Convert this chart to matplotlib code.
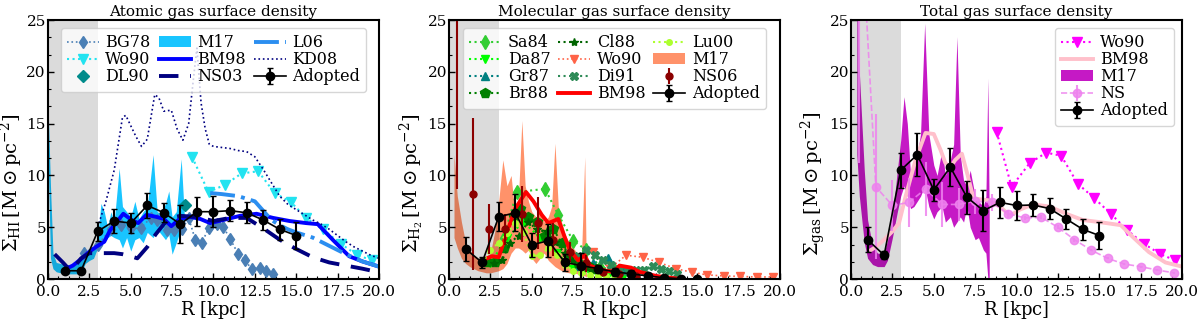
import numpy as np
import matplotlib
matplotlib.use("Agg")
import matplotlib.pyplot as plt
from matplotlib.ticker import MultipleLocator, AutoMinorLocator

plt.rcParams['font.family'] = 'DejaVu Serif'
plt.rcParams['mathtext.fontset'] = 'dejavuserif'

# ---------------- atomic gas (HI) ----------------
bg78_r = [2.2, 3.0, 3.8, 4.4, 5.0, 5.6, 6.2, 6.6, 7.2, 7.6, 8.1, 8.5, 8.9, 9.3, 9.7, 10.2, 10.6, 11.0, 11.5, 11.9, 12.3, 12.8, 13.2, 13.6]
bg78_s = [2.5, 3.3, 4.8, 5.2, 4.9, 4.9, 5.9, 5.7, 4.7, 4.7, 4.8, 5.9, 3.8, 3.5, 4.9, 5.3, 5.0, 3.9, 2.4, 1.8, 1.0, 1.1, 0.8, 0.5]

wo90_hi_r = [8.7, 9.7, 10.7, 11.7, 12.7, 13.7, 14.7, 15.6, 16.6, 17.7, 18.7, 19.6]
wo90_hi_s = [11.8, 8.4, 9.1, 10.2, 10.4, 8.3, 7.4, 5.9, 4.8, 3.4, 2.3, 1.8]

dl90_r = [8.3]
dl90_s = [7.1]

m17_hi_r = [0.0, 0.15, 0.3, 0.5, 0.75, 1.0, 1.25, 1.5, 1.75, 2.0, 2.25, 2.5, 2.75, 3.0, 3.2, 3.4, 3.6, 3.8, 4.0, 4.3, 4.5, 4.75, 5.0, 5.25, 5.5, 5.75, 6.0, 6.35, 6.6, 6.85, 7.1, 7.3, 7.5, 7.75, 8.05, 8.25]
m17_hi_up = [17.0, 9.0, 2.5, 1.6, 1.5, 1.4, 1.4, 1.4, 1.6, 2.0, 2.8, 2.5, 2.8, 4.0, 7.3, 6.5, 5.0, 6.5, 5.5, 10.7, 7.0, 6.5, 6.0, 7.5, 5.8, 6.5, 7.0, 12.0, 6.5, 6.3, 7.3, 8.5, 6.0, 6.5, 11.6, 5.8]
m17_hi_lo = [12.0, 2.0, 1.0, 0.7, 0.6, 0.5, 0.5, 0.5, 0.5, 0.6, 1.5, 1.8, 2.0, 3.0, 3.2, 3.6, 4.0, 4.2, 4.0, 3.8, 3.0, 4.0, 2.7, 3.8, 4.0, 3.5, 4.5, 4.0, 4.8, 4.3, 3.8, 4.3, 2.4, 3.5, 5.0, 5.5]

bm98_hi_r = [1.1, 1.5, 1.9, 2.4, 2.9, 3.4, 3.75, 4.2, 4.55, 5.05, 5.45, 5.95, 6.55, 7.0, 7.45, 7.95, 8.6, 9.2, 9.8, 10.6, 11.6, 12.6, 13.6, 14.6, 15.6, 16.3, 17.2, 18.2, 19.0, 20.0]
bm98_hi_s = [1.0, 1.3, 1.8, 2.5, 3.1, 3.6, 4.7, 5.6, 6.3, 5.7, 5.4, 6.2, 6.0, 5.8, 5.1, 5.8, 6.0, 5.8, 5.4, 5.7, 6.1, 6.3, 5.9, 5.6, 5.4, 5.3, 3.8, 2.2, 1.7, 1.2]

ns03_r = [0.4, 0.9, 1.3, 1.6, 2.0, 2.5, 3.0, 3.5, 4.0, 4.5, 5.0, 5.4, 6.0, 6.5, 7.0, 7.4, 8.0, 9.0, 10.0, 11.0, 12.0, 13.0, 14.0, 15.0, 16.0, 17.0, 18.0, 19.0, 20.0]
ns03_s = [2.4, 1.6, 0.9, 1.2, 2.0, 2.5, 2.5, 2.5, 2.5, 2.4, 2.2, 2.0, 3.1, 4.3, 5.3, 5.9, 6.1, 6.0, 5.6, 5.9, 5.9, 4.9, 3.8, 2.9, 2.1, 1.6, 1.3, 1.0, 0.65]

l06_r = [9.8, 10.5, 11.5, 12.5, 13.0, 13.5, 14.0, 14.5, 15.0, 16.0, 17.0, 18.0, 19.0, 20.0]
l06_s = [8.3, 8.2, 8.0, 7.5, 6.6, 5.7, 5.2, 4.8, 4.5, 4.0, 3.2, 2.4, 1.7, 1.2]

kd08_r = [3.0, 3.5, 4.0, 4.5, 4.7, 5.0, 5.3, 5.65, 6.0, 6.45, 6.7, 7.0, 7.45, 7.8, 8.15, 8.5, 8.8, 9.0, 9.25, 9.5, 9.75, 10.0, 10.5, 11.0, 11.5, 12.0, 12.5, 13.0, 13.5, 14.0, 14.5, 15.0, 15.5, 16.0, 16.5, 17.0, 17.5, 18.0, 18.5, 19.0, 19.5, 20.0]
kd08_s = [5.0, 7.5, 10.5, 15.6, 15.8, 14.8, 13.8, 12.8, 13.5, 17.8, 17.5, 16.2, 16.3, 14.5, 13.4, 15.0, 19.5, 22.3, 17.0, 14.5, 13.0, 12.8, 12.7, 12.6, 12.4, 12.3, 11.8, 10.6, 9.3, 8.0, 7.2, 6.7, 6.2, 5.7, 5.3, 4.8, 4.2, 3.6, 3.1, 2.7, 2.3, 2.0]

adopt_r = [1, 2, 3, 4, 5, 6, 7, 8, 9, 10, 11, 12, 13, 14, 15]
adopt_hi = [0.8, 0.8, 4.6, 5.6, 5.4, 7.1, 6.4, 5.3, 6.5, 6.5, 6.6, 6.4, 5.7, 4.8, 4.2]
adopt_hi_err = [0.0, 0.0, 0.9, 1.2, 1.0, 1.2, 0.9, 1.8, 1.4, 1.5, 1.0, 1.0, 1.0, 1.0, 1.3]

# ---------------- molecular gas (H2) ----------------
sa84_r = [3.3, 4.1, 5.8, 6.6, 7.5, 8.3, 9.1, 10.0]
sa84_s = [4.0, 8.4, 8.7, 6.2, 3.7, 2.8, 1.2, 0.8]

da87_r = [2.5, 3.5, 4.5, 5.5, 6.5, 7.5, 8.5, 9.6, 10.5]
da87_s = [1.5, 4.0, 5.5, 4.0, 2.5, 1.0, 0.6, 0.4, 0.2]

gr87_r = [7.8, 8.7, 9.6, 10.5, 11.3]
gr87_s = [1.3, 1.5, 2.0, 0.9, 0.5]

br88_r = [2.3, 2.8, 3.3, 3.9, 4.3, 4.8, 5.3, 5.8, 6.3, 6.8, 7.3, 7.8, 8.4, 8.9]
br88_s = [1.6, 1.6, 3.0, 6.0, 6.8, 6.0, 5.5, 4.2, 4.8, 3.5, 2.2, 1.5, 1.3, 1.0]

cl88_r = [2.7, 3.2, 3.7, 4.2, 4.8, 5.3, 5.9, 6.4, 7.0, 7.5, 8.0, 8.6, 9.1]
cl88_s = [1.5, 1.8, 3.5, 4.2, 5.5, 4.8, 4.6, 3.6, 2.5, 1.8, 1.3, 0.9, 0.6]

wo90_h2_r = [8.7, 9.7, 10.7, 11.7, 12.7, 13.7, 14.7, 15.6, 16.6, 17.6, 18.6, 19.6]
wo90_h2_s = [2.6, 1.0, 2.3, 2.1, 1.6, 1.0, 0.65, 0.4, 0.3, 0.25, 0.2, 0.2]

di91_r = [7.8, 8.3, 8.8, 9.3, 9.8, 10.3, 10.8, 11.3, 11.8, 12.3, 12.8, 13.3, 13.8]
di91_s = [2.2, 2.8, 2.3, 1.8, 1.4, 1.0, 0.8, 0.9, 0.9, 1.3, 1.0, 0.8, 0.5]

bm98_h2_r = [2.0, 2.6, 3.0, 3.5, 4.0, 4.65, 5.1, 5.6, 6.0, 6.6, 7.0, 7.3, 7.8, 8.2, 8.5, 9.0, 9.5, 10.0, 10.3, 11.0, 11.5, 12.0, 12.5, 13.0, 13.5, 14.0]
bm98_h2_s = [1.8, 2.2, 2.1, 4.5, 6.8, 8.4, 7.5, 6.2, 5.4, 5.8, 4.0, 2.8, 1.8, 2.3, 1.3, 1.0, 0.8, 0.7, 1.3, 1.1, 0.7, 0.5, 0.3, 0.2, 0.1, 0.0]

lu00_r = [2.0, 2.5, 3.0, 3.5, 4.0, 4.5, 5.0, 5.5, 6.0, 6.5, 7.0, 7.5, 8.0, 8.5, 9.0, 9.5, 10.0]
lu00_s = [1.5, 2.8, 3.5, 4.4, 5.4, 4.5, 2.2, 2.3, 3.0, 2.3, 1.4, 0.8, 0.6, 0.4, 0.3, 0.3, 0.2]

m17_h2_r = [0.3, 0.5, 0.75, 1.0, 1.25, 1.5, 1.75, 2.0, 2.25, 2.5, 2.75, 3.0, 3.25, 3.5, 3.75, 4.0, 4.2, 4.4, 4.6, 4.8, 5.0, 5.25, 5.5, 5.75, 6.0, 6.2, 6.4, 6.6, 6.8, 7.0, 7.25, 7.5, 7.75, 8.0, 8.2, 8.3]
m17_h2_up = [12.0, 8.0, 5.5, 3.5, 2.8, 2.3, 2.0, 2.0, 2.2, 2.5, 4.5, 7.5, 11.5, 9.0, 10.0, 6.0, 8.0, 15.3, 9.0, 7.5, 6.5, 6.0, 6.5, 5.5, 6.0, 7.0, 13.1, 7.0, 5.5, 4.4, 3.5, 3.0, 2.5, 2.0, 11.8, 0.5]
m17_h2_lo = [4.0, 3.0, 2.0, 1.5, 1.2, 1.0, 0.8, 0.7, 0.6, 0.6, 0.7, 0.8, 1.0, 1.5, 2.5, 3.0, 3.0, 2.8, 2.5, 2.8, 2.0, 1.5, 2.0, 2.5, 1.8, 1.5, 1.2, 1.0, 0.8, 0.7, 0.6, 0.6, 0.5, 0.4, 0.3, 0.2]

ns06_r = [0.5, 1.45, 2.4, 3.4, 4.4, 5.4, 6.3, 7.3, 8.3, 9.3, 10.3, 11.3]
ns06_s = [30.0, 8.2, 4.8, 4.8, 6.3, 5.4, 3.8, 2.6, 1.5, 0.7, 0.5, 0.3]
ns06_err = [21.3, 7.3, 2.4, 1.5, 2.7, 2.5, 1.6, 1.0, 0.8, 0.4, 0.3, 0.2]

adopt_h2 = [2.9, 1.6, 6.0, 6.4, 3.3, 3.7, 1.6, 1.3, 1.0, 0.7, 0.5, 0.3, 0.13, 0.03, 0.0]
adopt_h2_err = [1.2, 0.5, 1.4, 1.8, 1.15, 1.6, 0.8, 1.2, 0.4, 0.4, 0.4, 0.3, 0.1, 0.05, 0.05]

# ---------------- total gas ----------------
wo90_tot_r = [8.8, 9.7, 10.8, 11.8, 12.7, 13.7, 14.7, 15.7, 16.7, 17.7, 18.7, 19.6]
wo90_tot_s = [14.2, 8.9, 11.2, 12.2, 11.9, 9.2, 7.8, 6.3, 4.7, 3.4, 2.4, 1.8]

bm98_tot_r = [1.2, 1.5, 2.0, 2.5, 2.9, 3.3, 3.9, 4.5, 5.0, 5.4, 5.7, 6.0, 6.3, 6.7, 7.0, 7.4, 7.8, 8.3, 9.0, 9.6, 10.2, 11.0, 12.0, 13.0, 14.0, 15.0, 16.3, 17.0, 18.0, 19.0, 20.0]
bm98_tot_s = [2.8, 3.1, 3.8, 4.6, 5.4, 8.0, 11.5, 14.1, 14.0, 12.5, 11.2, 10.8, 11.5, 12.1, 10.3, 7.8, 7.7, 7.6, 7.0, 6.1, 6.7, 7.2, 7.0, 6.3, 5.7, 5.5, 5.2, 4.1, 2.6, 1.6, 1.2]

m17_tot_r = [0.35, 0.5, 0.8, 1.0, 1.3, 1.6, 2.0, 2.2, 2.5, 2.8, 3.0, 3.2, 3.4, 3.6, 3.8, 4.0, 4.2, 4.45, 4.7, 5.0, 5.2, 5.5, 5.7, 6.0, 6.2, 6.4, 6.6, 6.8, 7.0, 7.2, 7.5, 7.7, 8.0, 8.15, 8.27, 8.35]
m17_tot_up = [30.0, 20.0, 10.5, 5.7, 3.2, 2.5, 2.5, 3.7, 6.0, 10.5, 13.4, 17.6, 15.0, 10.0, 11.5, 12.0, 14.0, 24.7, 14.0, 11.0, 10.0, 12.5, 10.0, 11.5, 13.0, 23.4, 12.0, 9.5, 9.0, 10.5, 8.0, 7.5, 7.0, 8.0, 19.4, 6.0]
m17_tot_lo = [12.0, 8.0, 3.5, 2.0, 1.4, 1.2, 1.2, 1.8, 4.0, 6.5, 8.0, 9.0, 8.0, 6.8, 7.0, 7.5, 8.0, 9.0, 7.0, 5.8, 6.5, 7.0, 5.5, 6.0, 5.0, 5.5, 6.0, 5.5, 7.0, 5.0, 3.8, 4.0, 2.8, 2.5, 0.0, 0.0]

ns_r = [0.5, 1.5, 2.5, 3.5, 4.5, 5.5, 6.5, 7.5, 8.5, 9.5, 10.5, 11.5, 12.5, 13.5, 14.5, 15.5, 16.5, 17.5, 18.5, 19.5]
ns_s = [38.0, 8.9, 7.1, 7.4, 8.7, 7.2, 7.2, 7.5, 7.4, 6.3, 5.9, 5.95, 5.0, 3.8, 2.8, 2.0, 1.45, 1.2, 0.87, 0.6]
ns_err = [26.8, 7.0, 2.5, 2.4, 2.6, 2.2, 1.6, 1.2, 0.8, 0.4, 0.2, 0.2, 0.2, 0.2, 0.1, 0.1, 0.1, 0.1, 0.1, 0.1]

adopt_tot = [3.8, 2.3, 10.5, 12.0, 8.6, 10.8, 7.9, 6.6, 7.4, 7.1, 7.15, 6.8, 5.8, 4.8, 4.2]
adopt_tot_err = [1.2, 0.4, 1.7, 2.1, 1.1, 1.8, 1.6, 2.0, 1.5, 1.4, 1.1, 1.0, 1.0, 1.0, 1.3]


fig = plt.figure(figsize=(12, 3.2), dpi=100)
lefts = [0.04, 0.3742, 0.7092]
axes = [fig.add_axes([l, 0.128, 0.2758, 0.8094]) for l in lefts]


def style(ax, title, ylabel):
    ax.axvspan(0, 3, color='k', alpha=0.14, lw=0, zorder=1.5)
    ax.set_xlim(0, 20)
    ax.set_ylim(0, 25)
    ax.xaxis.set_major_locator(MultipleLocator(2.5))
    ax.xaxis.set_minor_locator(AutoMinorLocator(4))
    ax.yaxis.set_major_locator(MultipleLocator(5))
    ax.yaxis.set_minor_locator(AutoMinorLocator(3))
    ax.xaxis.set_major_formatter(plt.FormatStrFormatter('%.1f'))
    ax.tick_params(which='both', direction='in', labelsize=11)
    ax.tick_params(axis='x', pad=4.5)
    ax.tick_params(axis='y', pad=1.5)
    ax.tick_params(which='major', length=4, width=1)
    ax.tick_params(which='minor', length=2, width=0.8)
    for sp in ax.spines.values():
        sp.set_linewidth(1.5)
    ax.set_title(title, fontsize=11, pad=3)
    ax.set_xlabel(r'$\rm R\ [kpc]$', fontsize=13, labelpad=0)
    ax.set_ylabel(ylabel, fontsize=14)
    ax.yaxis.set_label_coords(-0.069, 0.37)


def adopted(ax, y, err):
    return ax.errorbar(adopt_r, y, yerr=err, fmt='o-', color='k', ms=6, lw=1.2,
                       elinewidth=1.5, capsize=2, zorder=6, label='Adopted')


leg_kw = dict(fontsize=11.5, labelspacing=0.0, handletextpad=0.4,
              columnspacing=0.5, borderpad=0.4, handlelength=2.0)

# panel 1
ax = axes[0]
h = []
h += ax.plot(bg78_r, bg78_s, ':d', color='#4a7fb5', ms=6, lw=1.2, label='BG78')
h += ax.plot(wo90_hi_r, wo90_hi_s, ':v', color='#22e3f0', ms=7, lw=1.5, label='Wo90')
h += ax.plot(dl90_r, dl90_s, 'D', color='darkcyan', ms=6, ls='none', label='DL90')
h.append(ax.fill_between(m17_hi_r, m17_hi_lo, m17_hi_up, color='deepskyblue', alpha=0.9, lw=0, zorder=1, label='M17'))
h += ax.plot(bm98_hi_r, bm98_hi_s, '-', color='blue', lw=2.8, label='BM98')
h += ax.plot(ns03_r, ns03_s, '--', color='navy', lw=2.8, dashes=(5, 3), label='NS03')
h += ax.plot(l06_r, l06_s, '-.', color='#2b8ef0', lw=2.8, label='L06')
h += ax.plot(kd08_r, kd08_s, ':', color='navy', lw=1.2, label='KD08')
h.append(adopted(ax, adopt_hi, adopt_hi_err))
style(ax, 'Atomic gas surface density', r'$\Sigma_{\rm HI}\,[\rm M \odot pc^{-2}]$')
ax.legend(handles=h, ncol=3, loc='upper center', **leg_kw)

# panel 2
ax = axes[1]
h = []
h += ax.plot(sa84_r, sa84_s, ':d', color='limegreen', ms=7, lw=1.5, label='Sa84')
h += ax.plot(da87_r, da87_s, ':v', color='lime', ms=6, lw=1.5, label='Da87')
h += ax.plot(gr87_r, gr87_s, ':^', color='teal', ms=6, lw=1.5, label='Gr87')
h += ax.plot(br88_r, br88_s, ':p', color='green', ms=7, lw=1.5, label='Br88')
h += ax.plot(cl88_r, cl88_s, ':*', color='darkgreen', ms=6, lw=1.5, label='Cl88')
h += ax.plot(wo90_h2_r, wo90_h2_s, ':v', color='tomato', ms=6, lw=1.2, label='Wo90')
h += ax.plot(di91_r, di91_s, ':X', color='seagreen', ms=6, lw=1.5, label='Di91')
h += ax.plot(bm98_h2_r, bm98_h2_s, '-', color='red', lw=2.8, label='BM98')
h += ax.plot(lu00_r, lu00_s, ':o', color='greenyellow', ms=4, lw=1.5, label='Lu00')
h.append(ax.fill_between(m17_h2_r, m17_h2_lo, m17_h2_up, color='coral', alpha=0.85, lw=0, zorder=1, label='M17'))
h.append(ax.errorbar(ns06_r, ns06_s, yerr=ns06_err, fmt='o', color='darkred', ms=5,
                     elinewidth=1.5, label='NS06'))
h.append(adopted(ax, adopt_h2, adopt_h2_err))
style(ax, 'Molecular gas surface density', r'$\Sigma_{\rm H_2}\,[\rm M \odot pc^{-2}]$')
ax.legend(handles=h, ncol=3, loc='upper center', **leg_kw)

# panel 3
ax = axes[2]
h = []
h += ax.plot(wo90_tot_r, wo90_tot_s, ':v', color='magenta', ms=7, lw=1.5, label='Wo90')
h += ax.plot(bm98_tot_r, bm98_tot_s, '-', color='pink', lw=2.8, label='BM98')
h.append(ax.fill_between(m17_tot_r, m17_tot_lo, m17_tot_up, color='m', alpha=0.9, lw=0, zorder=1, label='M17'))
h.append(ax.errorbar(ns_r, ns_s, yerr=ns_err, fmt='o--', color='violet', ms=6, lw=1.2,
                     elinewidth=1.5, alpha=0.85, label='NS'))
h.append(adopted(ax, adopt_tot, adopt_tot_err))
style(ax, 'Total gas surface density', r'$\Sigma_{\rm gas}\,[\rm M \odot pc^{-2}]$')
ax.legend(handles=h, ncol=1, loc='upper right', **leg_kw)

fig.savefig('out.png', dpi=100)
